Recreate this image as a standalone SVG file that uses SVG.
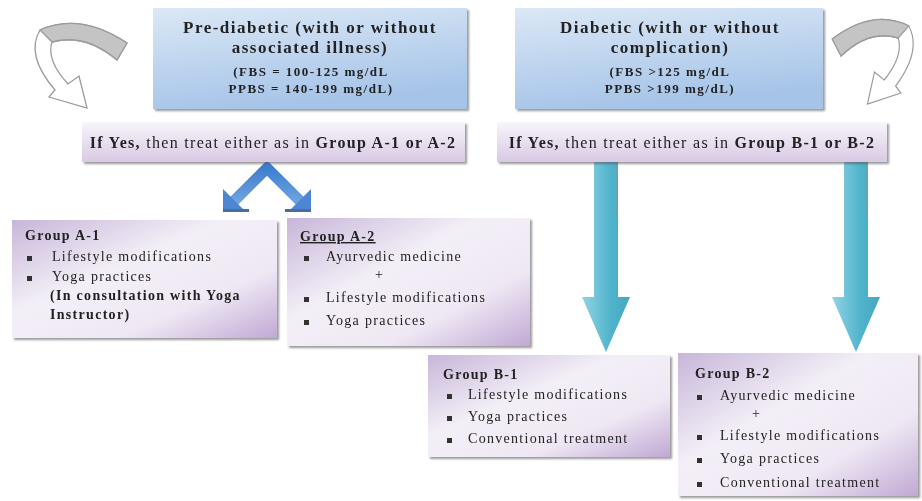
<svg xmlns="http://www.w3.org/2000/svg" width="922" height="501" viewBox="0 0 922 501">
<defs>
<linearGradient id="blue" x1="0" y1="0" x2="0.3" y2="1">
<stop offset="0" stop-color="#dbe8f6"/><stop offset="1" stop-color="#a6c4e8"/>
</linearGradient>
<linearGradient id="lav" x1="0" y1="0" x2="0" y2="1">
<stop offset="0" stop-color="#f8f5fa"/><stop offset="1" stop-color="#d8c9e4"/>
</linearGradient>
<linearGradient id="grp" x1="0" y1="0" x2="1" y2="1">
<stop offset="0" stop-color="#c8b6d9"/><stop offset="0.4" stop-color="#f3eff7"/><stop offset="0.7" stop-color="#efe8f4"/><stop offset="1" stop-color="#c0a9d4"/>
</linearGradient>
<linearGradient id="teal" x1="0" y1="0" x2="1" y2="0">
<stop offset="0" stop-color="#92d4e4"/><stop offset="0.6" stop-color="#4fb3cb"/><stop offset="1" stop-color="#45a8c2"/>
</linearGradient>
<linearGradient id="chev" x1="0" y1="0" x2="0" y2="1">
<stop offset="0" stop-color="#3d7ed0"/><stop offset="1" stop-color="#6fa2de"/>
</linearGradient>
<filter id="sh" x="-5%" y="-5%" width="112%" height="120%">
<feDropShadow dx="2" dy="2" stdDeviation="1.2" flood-color="#555" flood-opacity="0.6"/>
</filter>
<style>
text{font-family:"Liberation Serif","Times New Roman",serif;fill:#222;}
.t{font-size:17px;font-weight:bold;text-anchor:middle;letter-spacing:1.5px}
.m{font-size:13px;font-weight:bold;text-anchor:middle;letter-spacing:1.5px}
.y{font-size:16px;text-anchor:middle;letter-spacing:1.3px}
.g{font-size:14px;letter-spacing:1.3px}
.b{font-weight:bold}
.u{text-decoration:underline}
.cur{fill:#fff;stroke:#9a9a9a;stroke-width:1.3}
.band{fill:#c4c4c4;stroke:#9a9a9a;stroke-width:1.3}
</style>
<g id="curved">
<path class="cur" d="M127 43 Q80 12 40 30 Q25 55 55 90 L49 97 L87 108 L79 76 L68 84 Q46 60 52 42 Q85 33 117 60 Z"/>
<path class="band" d="M127 43 Q80 12 40 30 L52 42 Q85 33 117 60 Z"/>
</g>
</defs>

<g id="connectors">
<use href="#curved"/>
<use href="#curved" transform="matrix(-0.88,0,0,1,944,-4)"/>
<g id="chevron">
<polyline points="234,201 267,168 300,201" fill="none" stroke="url(#chev)" stroke-width="11" stroke-linejoin="miter"/>
<polygon points="223,189 223,212 246,212" fill="#4d86d2"/>
<polygon points="311,189 311,212 288,212" fill="#4d86d2"/>
<rect x="223" y="209" width="26" height="3" fill="#4a6d9c"/>
<rect x="285" y="209" width="26" height="3" fill="#4a6d9c"/>
</g>
<path d="M594 162 H618 V297 H630 L606 352 L582 297 H594 Z" fill="url(#teal)"/>
<line x1="617" y1="162" x2="617" y2="215" stroke="#7a9aa0" stroke-width="1"/>
<path d="M844 162 H868 V297 H880 L856 352 L832 297 H844 Z" fill="url(#teal)"/>
<line x1="867" y1="162" x2="867" y2="215" stroke="#7a9aa0" stroke-width="1"/>
</g>

<g id="prediabetic" filter="url(#sh)">
<rect x="153" y="8" width="314" height="101" fill="url(#blue)"/>
<text class="t" x="310" y="33">Pre-diabetic (with or without</text>
<text class="t" x="310" y="53">associated illness)</text>
<text class="m" x="311" y="76">(FBS = 100-125 mg/dL</text>
<text class="m" x="311" y="93">PPBS = 140-199 mg/dL)</text>
</g>

<g id="diabetic" filter="url(#sh)">
<rect x="515" y="8" width="308" height="101" fill="url(#blue)"/>
<text class="t" x="670" y="33">Diabetic (with or without</text>
<text class="t" x="670" y="53">complication)</text>
<text class="m" x="670" y="76">(FBS &gt;125 mg/dL</text>
<text class="m" x="670" y="93">PPBS &gt;199 mg/dL)</text>
</g>

<g id="ifyes-a" filter="url(#sh)">
<rect x="82" y="122" width="383" height="40" fill="url(#lav)"/>
<text class="y" x="273" y="148"><tspan class="b">If Yes,</tspan> then treat either as in <tspan class="b">Group A-1 or A-2</tspan></text>
</g>

<g id="ifyes-b" filter="url(#sh)">
<rect x="497" y="122" width="390" height="40" fill="url(#lav)"/>
<text class="y" x="692" y="148"><tspan class="b">If Yes,</tspan> then treat either as in <tspan class="b">Group B-1 or B-2</tspan></text>
</g>

<g id="group-a1" filter="url(#sh)">
<rect x="12" y="220" width="265" height="118" fill="url(#grp)"/>
<text class="g b" x="25" y="240">Group A-1</text>
<rect x="27" y="256" width="5" height="5" fill="#333"/>
<text class="g" x="52" y="261">Lifestyle modifications</text>
<rect x="27" y="276" width="5" height="5" fill="#333"/>
<text class="g" x="52" y="281">Yoga practices</text>
<text class="g b" x="50" y="300">(In consultation with Yoga</text>
<text class="g b" x="50" y="319">Instructor)</text>
</g>

<g id="group-a2" filter="url(#sh)">
<rect x="287" y="218" width="243" height="128" fill="url(#grp)"/>
<text class="g b u" x="300" y="241">Group A-2</text>
<rect x="304" y="256" width="5" height="5" fill="#333"/>
<text class="g" x="326" y="261">Ayurvedic medicine</text>
<text class="g" x="375" y="279">+</text>
<rect x="304" y="297" width="5" height="5" fill="#333"/>
<text class="g" x="326" y="302">Lifestyle modifications</text>
<rect x="304" y="320" width="5" height="5" fill="#333"/>
<text class="g" x="326" y="325">Yoga practices</text>
</g>

<g id="group-b1" filter="url(#sh)">
<rect x="428" y="355" width="242" height="102" fill="url(#grp)"/>
<text class="g b" x="443" y="379">Group B-1</text>
<rect x="447" y="394" width="5" height="5" fill="#333"/>
<text class="g" x="468" y="399">Lifestyle modifications</text>
<rect x="447" y="416" width="5" height="5" fill="#333"/>
<text class="g" x="468" y="421">Yoga practices</text>
<rect x="447" y="438" width="5" height="5" fill="#333"/>
<text class="g" x="468" y="443">Conventional treatment</text>
</g>

<g id="group-b2" filter="url(#sh)">
<rect x="678" y="353" width="240" height="143" fill="url(#grp)"/>
<text class="g b" x="695" y="378">Group B-2</text>
<rect x="697" y="395" width="5" height="5" fill="#333"/>
<text class="g" x="720" y="400">Ayurvedic medicine</text>
<text class="g" x="752" y="418">+</text>
<rect x="697" y="435" width="5" height="5" fill="#333"/>
<text class="g" x="720" y="440">Lifestyle modifications</text>
<rect x="697" y="458" width="5" height="5" fill="#333"/>
<text class="g" x="720" y="463">Yoga practices</text>
<rect x="697" y="482" width="5" height="5" fill="#333"/>
<text class="g" x="720" y="487">Conventional treatment</text>
</g>
</svg>
